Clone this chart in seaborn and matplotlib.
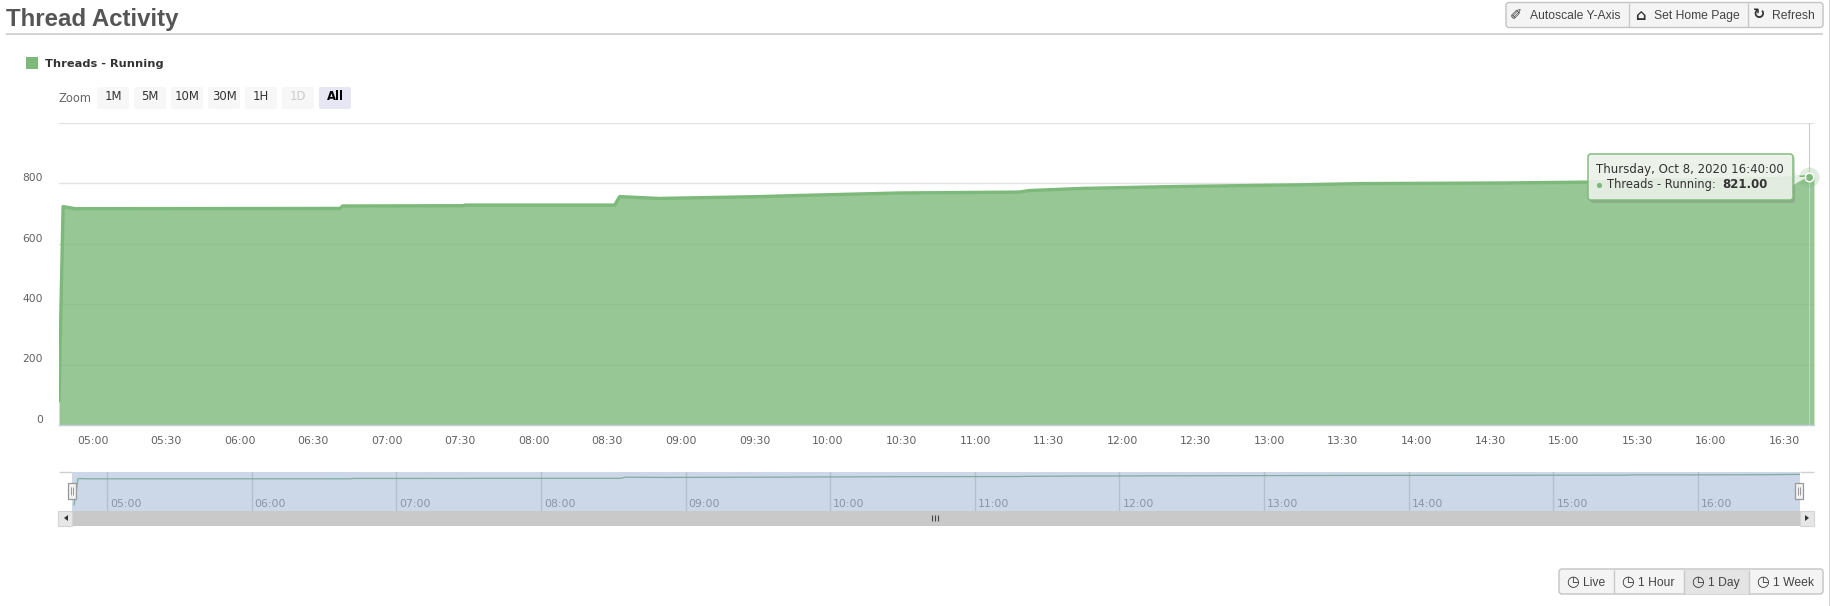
# thread activity dashboard panel
import pandas as pd
import matplotlib
matplotlib.use("Agg")
import matplotlib.pyplot as plt
import matplotlib.dates as mdates
from matplotlib.patches import FancyBboxPatch, Rectangle, Polygon
import seaborn as sns

W, H = 1831, 606
GREEN = "#7db97a"
FILL_ALPHA = 0.8

# =========================
# Data
# =========================
times = ["04:46:20", "04:48", "04:53", "06:41", "06:42", "07:31", "07:32", "08:33",
         "08:35", "08:51", "09:32", "09:49", "10:29", "11:18", "11:22", "11:43",
         "12:19", "13:13", "13:37", "14:34", "15:11", "15:31", "15:32", "15:56",
         "16:28", "16:40", "16:42:10"]
threads = [80, 722, 715, 716, 724, 725, 727, 727,
           755, 749, 755, 759, 767, 770, 775, 782,
           788, 794, 798, 800, 803, 804, 810, 810,
           815, 821, 821]

y_ticks = [0, 200, 400, 600, 800, 1000]
y_labels = ["0", "200", "400", "600", "800", ""]
main_ticks = ["05:00", "05:30", "06:00", "06:30", "07:00", "07:30", "08:00", "08:30",
              "09:00", "09:30", "10:00", "10:30", "11:00", "11:30", "12:00", "12:30",
              "13:00", "13:30", "14:00", "14:30", "15:00", "15:30", "16:00", "16:30"]
nav_ticks = ["05:00", "06:00", "07:00", "08:00", "09:00", "10:00", "11:00", "12:00",
             "13:00", "14:00", "15:00", "16:00"]
zoom_buttons = ["1M", "5M", "10M", "30M", "1H", "1D", "All"]
top_buttons = ["Autoscale Y-Axis", "Set Home Page", "Refresh"]
top_icons = ["\u2710", "\u2302", "\u21bb"]
range_buttons = ["Live", "1 Hour", "1 Day", "1 Week"]


def at(t):
    return pd.Timestamp("2020-10-08 " + t)


df = pd.DataFrame({"time": [at(t) for t in times], "threads": threads})

sns.set_theme(style="white")
plt.rcParams["font.family"] = ["DejaVu Sans"]

fig = plt.figure(figsize=(W / 100, H / 100), dpi=100, facecolor="white")


def px_axes(x0, y0, x1, y1, **kw):
    return fig.add_axes([x0 / W, 1 - y1 / H, (x1 - x0) / W, (y1 - y0) / H], **kw)


# =========================
# Main chart
# =========================
ax = px_axes(59, 122.5, 1814, 425)
ax.fill_between(df["time"], df["threads"], 0, color=GREEN, alpha=FILL_ALPHA, lw=0, zorder=2)
sns.lineplot(data=df, x="time", y="threads", estimator=None, color=GREEN, lw=2.4, ax=ax, zorder=3)
ax.set_xlim(at("04:46:20"), at("16:42:10"))
ax.set_ylim(0, 1000)
ax.set_xlabel("")
ax.set_ylabel("")
ax.set_yticks(y_ticks)
ax.set_yticklabels(y_labels, va="bottom", color="#606060", fontsize=7.7)
ax.set_xticks([mdates.date2num(at(t)) for t in main_ticks])
ax.set_xticklabels(main_ticks, color="#606060", fontsize=7.8)
ax.tick_params(axis="y", length=0, pad=11.5)
ax.tick_params(axis="x", length=7, width=0.8, color="#c0d0e0", pad=0.8)
ax.grid(axis="y", color="#e3e3e3", lw=1)
ax.set_axisbelow(True)
for side in ["left", "right", "top"]:
    ax.spines[side].set_visible(False)
ax.spines["bottom"].set_color("#c0d0e0")
ax.spines["bottom"].set_linewidth(1)

# hover marker on the last sample
ax.axvline(at("16:40"), color="#cccccc", lw=0.8, zorder=4)
ax.scatter([at("16:40")], [821], s=210, color=GREEN, alpha=0.25, lw=0, zorder=5, clip_on=False)
ax.scatter([at("16:40")], [821], s=38, color=GREEN, edgecolor="white", lw=1, zorder=6, clip_on=False)

# =========================
# Navigator
# =========================
nav = px_axes(72.5, 472, 1800, 511)
nav.set_facecolor("#ccd7e8")
sns.lineplot(data=df, x="time", y="threads", estimator=None, color="#7fae9f", lw=0.9, ax=nav)
nav.set_xlim(at("04:45:42"), at("16:42:18"))
nav.set_ylim(-60, 880)
nav.set_xlabel("")
nav.set_ylabel("")
nav.set_yticks([])
nav.set_xticks([mdates.date2num(at(t)) for t in nav_ticks])
nav.set_xticklabels([])
nav.tick_params(axis="x", length=0)
nav.grid(axis="x", color="#b4bfcf", lw=1)
nav.set_axisbelow(True)
for side in nav.spines:
    nav.spines[side].set_visible(False)
for t in nav_ticks:
    nav.annotate(t, (at(t), 0), xycoords=("data", "axes fraction"), xytext=(3, 7),
                 textcoords="offset pixels", color="#8a94a3", fontsize=7.8, va="center")

# =========================
# Page chrome, pixel coordinates
# =========================
ui = fig.add_axes([0, 0, 1, 1], zorder=10)
ui.set_xlim(0, W)
ui.set_ylim(H, 0)
ui.axis("off")
ui.patch.set_alpha(0)


def box(x0, y0, x1, y1, fc, ec="none", r=2, lw=1, alpha=None, z=2):
    p = FancyBboxPatch((x0 + r, y0 + r), x1 - x0 - 2 * r, y1 - y0 - 2 * r,
                       boxstyle=f"round,pad={r},rounding_size={r}", fc=fc, ec=ec, lw=lw,
                       alpha=alpha, zorder=z)
    ui.add_patch(p)


def line(xs, ys, color, lw=1, z=3):
    ui.plot(xs, ys, color=color, lw=lw, zorder=z, solid_capstyle="butt")


SANS = "Liberation Sans"

ui.text(6, 19.5, "Thread Activity", family=SANS, weight="bold", fontsize=17.3, color="#555555", va="center")
line([6, 1823], [33.5, 33.5], "#cccccc", 1.2)
line([1830, 1830], [0, H], "#c8c8c8", 1.2)

# top right button group
box(1506, 2.5, 1823, 27.5, "#f4f4f4", "#c4c4c4", r=3)
for x in [1629, 1748]:
    line([x, x], [3, 27], "#c9c9c9")
for x, icon, label in zip([1516, 1640, 1759], top_icons, top_buttons):
    ui.text(x, 15, icon, fontsize=10.5, color="#333333", ha="center", va="center", weight="bold")
    ui.text(x + 14 if label != "Refresh" else x + 13, 16, label, family=SANS, fontsize=8.7,
            color="#444444", va="center")

# legend
ui.add_patch(Rectangle((26, 57), 12, 12, fc=GREEN, ec="none"))
ui.text(45, 64, "Threads - Running", fontsize=8.2, weight="bold", color="#333333", va="center")

# zoom buttons
ui.text(59, 98, "Zoom", fontsize=8.3, color="#666666", va="center")
for i, label in enumerate(zoom_buttons):
    x0 = 97 + i * 37
    active = label == "All"
    box(x0, 87, x0 + 32, 109, "#e6e6f5" if active else "#f7f7f7", r=2)
    color = "#000000" if active else ("#cccccc" if label == "1D" else "#333333")
    ui.text(x0 + 16, 97, label, fontsize=8.4, color=color, ha="center", va="center",
            weight="bold" if active else "normal")

# navigator frame and scrollbar
line([59, 72.5], [472, 472], "#d0d0d0")
line([1800, 1814], [472, 472], "#d0d0d0")
ui.add_patch(Rectangle((72, 511), 1728, 14.5, fc="#c9c9c9", ec="none"))
for x0 in [58.5, 1800]:
    ui.add_patch(Rectangle((x0, 511), 14, 14.5, fc="#e6e6e6", ec="#d4d4d4", lw=0.8))
ui.add_patch(Polygon([(68, 515), (68, 521), (64, 518)], fc="#333333", ec="none"))
ui.add_patch(Polygon([(1805, 515), (1805, 521), (1809, 518)], fc="#333333", ec="none"))
for x in [932, 935, 938]:
    line([x, x], [515, 521], "#444444", 0.8)
for x0 in [68.5, 1795.5]:
    ui.add_patch(Rectangle((x0, 483), 8, 15.5, fc="#f2f2f2", ec="#999999", lw=0.9, zorder=4))
    for dx in [3, 5]:
        line([x0 + dx, x0 + dx], [487, 495], "#999999", 0.7, z=5)

# bottom range buttons
box(1559, 569, 1823, 594, "#f4f4f4", "#c4c4c4", r=3)
ui.add_patch(Rectangle((1684, 569.5), 65, 24, fc="#e4e4e4", ec="none", zorder=2.5))
for x in [1614, 1684, 1749]:
    line([x, x], [569.5, 593.5], "#c9c9c9")
for x, label in zip([1573, 1628, 1698, 1763], range_buttons):
    ui.text(x, 581.5, "\u25f7", fontsize=10.5, color="#333333", ha="center", va="center", weight="bold")
    ui.text(x + 10, 583, label, family=SANS, fontsize=8.7, color="#444444", va="center")

# tooltip
ui.add_patch(Polygon([(1792, 168), (1800, 177), (1808, 177), (1800, 181), (1792, 186)],
                     fc="#f1f7ef", ec="none", alpha=0.9, zorder=6))
box(1590, 156, 1795, 203, "#777777", r=3, alpha=0.3, z=6)
box(1588, 154, 1793, 200, "#f0f5ee", GREEN, r=3, lw=1.2, alpha=0.88, z=7)
ui.text(1596, 170, "Thursday, Oct 8, 2020 16:40:00", fontsize=8.45, color="#333333", va="center", zorder=8)
ui.scatter([1599], [185], s=14, color=GREEN, lw=0, zorder=8)
ui.text(1607, 184.5, "Threads - Running:", fontsize=8.3, color="#333333", va="center", zorder=8)
ui.text(1722, 184.5, "821.00", fontsize=8.45, weight="bold", color="#333333", va="center", zorder=8)

fig.savefig("out.png", dpi=100)
